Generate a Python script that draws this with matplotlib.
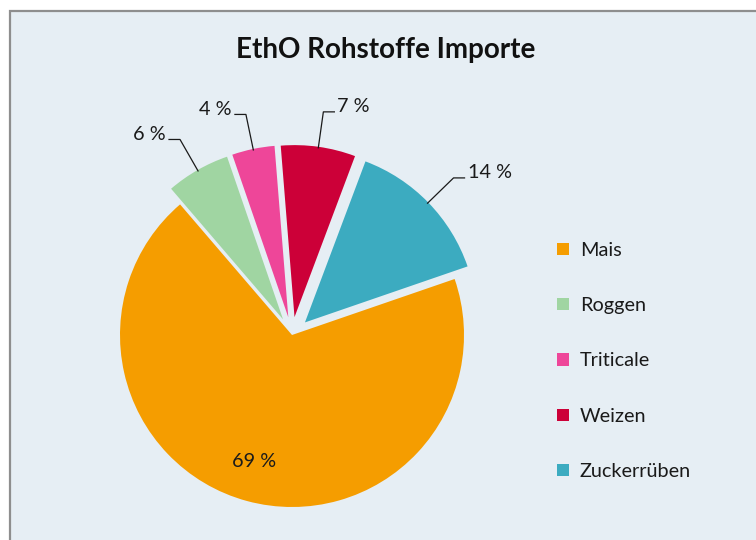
import numpy as np
import matplotlib
matplotlib.use("Agg")
import matplotlib.pyplot as plt
from matplotlib.patches import Rectangle, Patch

plt.rcParams['font.family'] = ['Lato', 'DejaVu Sans']

# Data
categories = ["Mais", "Roggen", "Triticale", "Weizen", "Zuckerrüben"]
values = [69, 6, 4, 7, 14]
colors = ["#F59D00", "#A0D5A2", "#EE4699", "#CC0038", "#3CABC0"]
explode = [0.0, 0.105, 0.105, 0.105, 0.105]   # fraction of radius
title = "EthO Rohstoffe Importe"

W, H = 756, 540
fig = plt.figure(figsize=(W / 100, H / 100), dpi=100)
fig.patch.set_facecolor("white")
fig.patches.append(Rectangle((10 / W, -0.1), 1.2, (H - 11) / H + 0.1,
                             transform=fig.transFigure, facecolor="#E6EEF4",
                             edgecolor="#8E8E8E", lw=1.6, zorder=-10))

ax = fig.add_axes([0, 0, 1, 1])
ax.patch.set_alpha(0)

cx, cy, R = 292, H - 335, 172
wedges, _ = ax.pie(values, colors=colors, explode=[e * R for e in explode],
                   startangle=19, counterclock=False, center=(cx, cy),
                   radius=R, wedgeprops=dict(linewidth=0), frame=True)
ax.set_xlim(0, W)
ax.set_ylim(0, H)
ax.axis("off")

fs = 14.3
for w, v, ex in zip(wedges, values, explode):
    mid = np.deg2rad((w.theta1 + w.theta2) / 2)
    ux, uy = np.cos(mid), np.sin(mid)
    lab = f"{v} %"
    if ex == 0:
        ax.text(cx + 0.76 * R * ux - 4, cy + 0.76 * R * uy, lab, ha="center",
                va="center", fontsize=fs, color="#1a1a1a")
        continue
    r0 = R * (1 + ex) - 1
    x0, y0 = cx + r0 * ux, cy + r0 * uy
    r1 = R * 1.31
    x1, y1 = cx + r1 * ux, cy + r1 * uy
    side = 1 if ux > 0 else -1
    x2 = x1 + side * 11
    ax.plot([x0, x1, x2], [y0, y1, y1], color="#1a1a1a", lw=0.9)
    ax.text(x2 + side * 3, y1 + 5, lab, ha="left" if side > 0 else "right",
            va="center", fontsize=fs, color="#1a1a1a")

fig.text(386 / W, 1 - 50 / H, title, ha="center", va="center",
         fontsize=20, fontweight="bold", color="#111111")

handles = [Patch(facecolor=c, edgecolor="none") for c in colors]
fig.legend(handles, categories, loc="center left",
           bbox_to_anchor=(539 / W, 1 - 361 / H), frameon=False,
           fontsize=fs, labelspacing=1.93, handlelength=0.6,
           handleheight=0.6, handletextpad=0.55, labelcolor="#1a1a1a")

fig.savefig("out.png", dpi=100)
